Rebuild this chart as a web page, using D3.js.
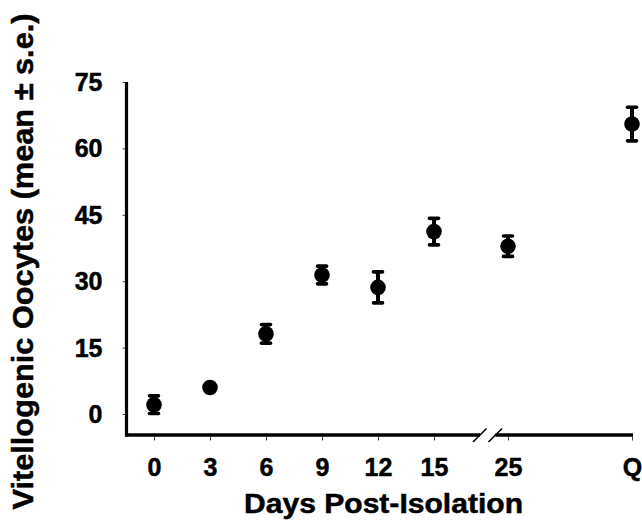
<!DOCTYPE html>
<html>
<head>
<meta charset="utf-8">
<script src="https://cdn.jsdelivr.net/npm/d3@7"></script>
<style>
  html, body { margin: 0; padding: 0; background: #fff; }
  svg { display: block; }
  text { font-family: "Liberation Sans", Arial, Helvetica, sans-serif; font-weight: bold; fill: #000; stroke: #000; stroke-width: 0.5px; }
</style>
</head>
<body>
<svg id="chart" width="642" height="522"></svg>
<script>
// ---- data ----
const categories = ["0", "3", "6", "9", "12", "15", "25", "Q"];
const means      = [2.1, 6.0, 18.1, 31.4, 28.6, 41.2, 37.9, 65.5];
const stdErrs    = [2.0, 0.4, 2.1, 2.0, 3.5, 3.0, 2.3, 3.8];
const yTicks     = [0, 15, 30, 45, 60, 75];
const xTitle = "Days Post-Isolation";
const yTitle = "Vitellogenic Oocytes (mean \u00B1 s.e.)";

// ---- layout ----
const W = 642, H = 522;
const axisX = 126.5, axisY = 435;
const plotRight = 633;
const svg = d3.select("#chart");

// numeric days: linear 0-15, compressed segment after break to 25
const xDays = d3.scaleLinear().domain([0, 15, 25]).range([154, 434, 508]);
const qPos = 632;
const x = d3.scaleOrdinal()
  .domain(categories)
  .range(categories.map(c => c === "Q" ? qPos : xDays(+c)));

const y = d3.scaleLinear().domain([0, 75]).range([414, 82]);

const data = categories.map((c, i) => ({ c, m: means[i], se: stdErrs[i] }));

// ---- axes ----
const gy = svg.append("g").attr("transform", `translate(${axisX},0)`)
  .call(d3.axisLeft(y).tickValues(yTicks).tickSize(4).tickPadding(20));
gy.select(".domain").remove();
gy.selectAll(".tick line").attr("stroke", "#444").attr("stroke-width", 1);
gy.selectAll(".tick text").style("font-size", "25px").attr("dy", "0.34em");

const gx = svg.append("g").attr("transform", `translate(0,${axisY + 1.5})`)
  .call(d3.axisBottom(x).tickSize(4).tickPadding(18));
gx.select(".domain").remove();
gx.selectAll(".tick line").attr("stroke", "#444").attr("stroke-width", 1);
gx.selectAll(".tick text").style("font-size", "25px").attr("dy", "0.71em");

// axis lines
svg.append("line")
  .attr("x1", axisX).attr("x2", axisX)
  .attr("y1", y(75)).attr("y2", axisY + 1.5)
  .attr("stroke", "#000").attr("stroke-width", 3.2);

const breakL = 480, breakR = 495.5;
svg.append("line")
  .attr("x1", axisX - 1.5).attr("x2", breakL)
  .attr("y1", axisY).attr("y2", axisY)
  .attr("stroke", "#000").attr("stroke-width", 3.5);
svg.append("line")
  .attr("x1", breakR).attr("x2", plotRight)
  .attr("y1", axisY).attr("y2", axisY)
  .attr("stroke", "#000").attr("stroke-width", 3.5);
[breakL, breakR].forEach(bx => {
  svg.append("line")
    .attr("x1", bx - 7).attr("y1", axisY + 7)
    .attr("x2", bx + 6.5).attr("y2", axisY - 6.5)
    .attr("stroke", "#000").attr("stroke-width", 1.6);
});

// ---- error bars ----
const eb = svg.append("g");
data.forEach(d => {
  const cx = x(d.c);
  const yt = y(d.m + d.se), yb = y(d.m - d.se);
  eb.append("line").attr("x1", cx).attr("x2", cx).attr("y1", yt).attr("y2", yb)
    .attr("stroke", "#000").attr("stroke-width", 4);
  [yt, yb].forEach(yy => {
    eb.append("line").attr("x1", cx - 4.5).attr("x2", cx + 4.5).attr("y1", yy).attr("y2", yy)
      .attr("stroke", "#000").attr("stroke-width", 3.6).attr("stroke-linecap", "round");
  });
});

// ---- points ----
svg.append("g").selectAll("circle").data(data).join("circle")
  .attr("cx", d => x(d.c)).attr("cy", d => y(d.m)).attr("r", 7.8).attr("fill", "#000");

// ---- titles ----
svg.append("text")
  .attr("x", 383.5).attr("y", 513)
  .attr("text-anchor", "middle")
  .attr("textLength", 279).attr("lengthAdjust", "spacingAndGlyphs")
  .style("font-size", "27px")
  .text(xTitle);

svg.append("text")
  .attr("transform", "translate(33,261.5) rotate(-90)")
  .attr("text-anchor", "middle")
  .attr("textLength", 496).attr("lengthAdjust", "spacingAndGlyphs")
  .style("font-size", "30px")
  .text(yTitle);
</script>
</body>
</html>
